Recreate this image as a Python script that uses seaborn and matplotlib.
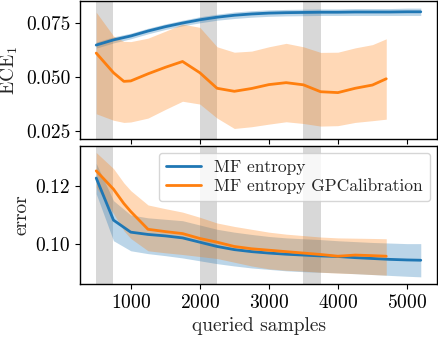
import numpy as np
import pandas as pd
import seaborn as sns
from matplotlib import pyplot as plt
from matplotlib.ticker import MultipleLocator, FormatStrFormatter

# queried samples
x_mf = [500, 750, 1000, 1250, 1500, 1750, 2000, 2250, 2500, 2750, 3000, 3250,
        3500, 3750, 4000, 4250, 4500, 4750, 5000, 5200]
x_gp = [500, 750, 900, 1000, 1250, 1500, 1750, 2000, 2250, 2500, 2750, 3000,
        3250, 3500, 3750, 4000, 4250, 4500, 4700]

# ECE_1 - MF entropy
ece_mf = [0.0648, 0.0672, 0.0690, 0.0713, 0.0733, 0.0750, 0.0765, 0.0777, 0.0786, 0.0792,
          0.0796, 0.0798, 0.0799, 0.0800, 0.0800, 0.0801, 0.0801, 0.0801, 0.0802, 0.0802]
ece_mf_lo = [0.0634, 0.0658, 0.0677, 0.0700, 0.0720, 0.0737, 0.0751, 0.0763, 0.0771, 0.0777,
             0.0781, 0.0783, 0.0784, 0.0785, 0.0785, 0.0785, 0.0785, 0.0785, 0.0785, 0.0785]
ece_mf_hi = [0.0662, 0.0686, 0.0703, 0.0726, 0.0746, 0.0763, 0.0779, 0.0791, 0.0801, 0.0807,
             0.0811, 0.0813, 0.0814, 0.0815, 0.0815, 0.0817, 0.0817, 0.0817, 0.0819, 0.0819]

# ECE_1 - MF entropy GPCalibration
ece_gp = [0.0611, 0.0520, 0.0480, 0.0482, 0.0515, 0.0545, 0.0572, 0.0520, 0.0448, 0.0434,
          0.0447, 0.0465, 0.0474, 0.0464, 0.0432, 0.0428, 0.0448, 0.0463, 0.0492]
ece_gp_lo = [0.0330, 0.0300, 0.0290, 0.0292, 0.0310, 0.0350, 0.0388, 0.0375, 0.0310, 0.0262,
             0.0270, 0.0282, 0.0293, 0.0285, 0.0273, 0.0275, 0.0290, 0.0298, 0.0305]
ece_gp_hi = [0.0800, 0.0690, 0.0665, 0.0664, 0.0680, 0.0712, 0.0745, 0.0730, 0.0640, 0.0615,
             0.0620, 0.0640, 0.0656, 0.0640, 0.0614, 0.0615, 0.0635, 0.0650, 0.0677]

# error - MF entropy
err_mf = [0.1229, 0.1082, 0.1040, 0.1032, 0.1027, 0.1020, 0.1005, 0.0990, 0.0979, 0.0972,
          0.0967, 0.0963, 0.0960, 0.0957, 0.0955, 0.0951, 0.0948, 0.0945, 0.0943, 0.0942]
err_mf_lo = [0.1174, 0.1010, 0.0975, 0.0965, 0.0958, 0.0950, 0.0940, 0.0930, 0.0922, 0.0915,
             0.0910, 0.0905, 0.0902, 0.0900, 0.0898, 0.0895, 0.0892, 0.0889, 0.0886, 0.0884]
err_mf_hi = [0.1280, 0.1150, 0.1100, 0.1090, 0.1085, 0.1080, 0.1065, 0.1050, 0.1040, 0.1032,
             0.1025, 0.1020, 0.1017, 0.1014, 0.1010, 0.1007, 0.1004, 0.1002, 0.1000, 0.1000]

# error - MF entropy GPCalibration
err_gp = [0.1254, 0.1190, 0.1140, 0.1112, 0.1050, 0.1042, 0.1035, 0.1018, 0.1005, 0.0990,
          0.0982, 0.0977, 0.0972, 0.0967, 0.0962, 0.0956, 0.0960, 0.0958, 0.0956]
err_gp_lo = [0.1197, 0.1105, 0.1045, 0.1018, 0.0975, 0.0968, 0.0962, 0.0955, 0.0948, 0.0935,
             0.0922, 0.0912, 0.0907, 0.0904, 0.0900, 0.0897, 0.0895, 0.0892, 0.0890]
err_gp_hi = [0.1318, 0.1262, 0.1212, 0.1185, 0.1135, 0.1122, 0.1110, 0.1092, 0.1072, 0.1060,
             0.1050, 0.1040, 0.1033, 0.1028, 0.1023, 0.1020, 0.1019, 0.1018, 0.1017]

# highlighted query ranges
spans = [(500, 750), (2000, 2250), (3500, 3750)]

sns.set_style("ticks")
plt.rcParams.update({
    'font.family': 'serif',
    'font.serif': ['cmr10'],
    'mathtext.fontset': 'cm',
    'axes.formatter.use_mathtext': True,
    'font.size': 14,
    'axes.edgecolor': 'black',
    'axes.linewidth': 1.0,
    'xtick.color': 'black',
    'ytick.color': 'black',
})

blue = '#1f77b4'
orange = '#ff7f0e'

fig, (ax1, ax2) = plt.subplots(2, 1, figsize=(4.39, 3.38), dpi=100, sharex=True)
fig.subplots_adjust(left=80/439, right=437/439, top=1-1/338, bottom=1-284/338, hspace=0.05)

for ax, (m1, lo1, hi1, m2, lo2, hi2) in zip(
        [ax1, ax2],
        [(ece_mf, ece_mf_lo, ece_mf_hi, ece_gp, ece_gp_lo, ece_gp_hi),
         (err_mf, err_mf_lo, err_mf_hi, err_gp, err_gp_lo, err_gp_hi)]):
    for a, b in spans:
        ax.axvspan(a, b, color='gray', alpha=0.3, lw=0)
    ax.fill_between(x_mf, lo1, hi1, color=blue, alpha=0.3, lw=0)
    ax.fill_between(x_gp, lo2, hi2, color=orange, alpha=0.3, lw=0)
    sns.lineplot(x=x_mf, y=m1, ax=ax, color=blue, lw=2, label='MF entropy')
    sns.lineplot(x=x_gp, y=m2, ax=ax, color=orange, lw=2, label='MF entropy GPCalibration')

ax1.get_legend().remove()
ax1.set_ylim(0.0213, 0.0852)
ax1.yaxis.set_major_locator(MultipleLocator(0.025))
ax1.yaxis.set_major_formatter(FormatStrFormatter('%.3f'))
ax1.set_ylabel(r'$\mathrm{ECE}_1$')

ax2.set_ylim(0.0859, 0.1341)
ax2.yaxis.set_major_locator(MultipleLocator(0.02))
ax2.yaxis.set_major_formatter(FormatStrFormatter('%.2f'))
ax2.set_ylabel('error')
ax2.set_xlabel('queried samples')
ax2.xaxis.set_major_locator(MultipleLocator(1000))
ax2.legend(loc='upper right', fontsize=12.5, handlelength=2.0, borderaxespad=0.4,
           labelspacing=0.2)

plt.savefig('out.png', dpi=100)
